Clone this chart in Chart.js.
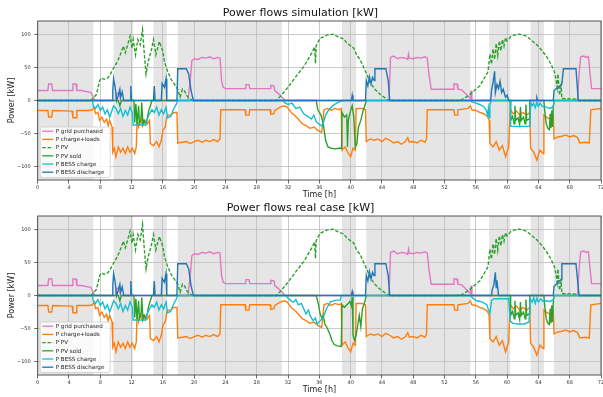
<!DOCTYPE html>
<html><head><meta charset="utf-8">
<script src="https://cdn.jsdelivr.net/npm/chart.js@4.4.0/dist/chart.umd.min.js"></script>
<style>
html,body{margin:0;padding:0;background:#fff;overflow:hidden;width:603px;height:397px;}
.box{position:absolute;left:0;width:620px;height:202px;}
#b1{top:0}
#b2{top:195px}
</style></head><body>
<div class="box" id="b1"><canvas id="c1" width="620" height="202"></canvas></div>
<div class="box" id="b2"><canvas id="c2" width="620" height="202"></canvas></div>
<script>
// ---------- tick labels / shaded periods ----------
const xTicks = [0,4,8,12,16,20,24,28,32,36,40,44,48,52,56,60,64,68,72];
const yTicks = [-100,-50,0,50,100];
const shadeStart = [0, 9.7, 14.8, 17.9, 38.9, 42.0, 57.7, 63.0, 66.0];
const shadeEnd   = [7.1, 12.2, 16.5, 31.2, 40.7, 55.3, 60.4, 64.7, 72];
const seriesLabels = ['P grid purchased','P charge+loads','P PV','P PV sold','P BESS charge','P BESS discharge'];
const titles = ['Power flows simulation [kW]','Power flows real case [kW]'];

// ---------- P grid purchased (both charts) ----------
const gridT = [0,1.3,1.4,1.8,1.9,4.4,4.5,4.9,5.0,5.6,6.0,6.5,6.8,7.1,7.3,9.9,10.0,10.4,10.6,19.2,
  19.5,19.7,20.0,20.5,21.0,21.5,22.0,22.5,23.0,23.3,23.5,23.7,24.0,26.5,26.6,27.0,27.1,29.7,29.8,30.2,
  30.3,30.8,31.3,31.6,44.9,45.1,45.5,46.0,46.5,47.0,47.3,47.4,47.5,48.0,48.5,49.0,49.5,49.8,50.0,50.3,
  53.1,53.2,53.6,53.7,54.2,54.8,55.3,55.4,55.5,69.0,69.2,69.4,69.8,70.1,70.4,70.6,70.8,72];
const gridV = [15,15,25,25,15,15,25,25,15,15,14,13,12,5,0,0,10,12,0,0,
  30,60,63,62,65,64,66,63,65,64,30,20,18,18,24,24,18,18,23,22,
  15,10,4,0,0,65,67,63,65,64,62,70,64,63,65,64,66,64,40,17,
  17,25,25,17,16,9,3,15,0,0,40,66,67,65,66,40,18,18];

// ---------- P charge+loads (both charts) ----------
const loadT = [0,1.3,1.4,1.8,1.9,4.4,4.5,4.9,5.0,6.5,
  7.0,7.2,7.4,7.7,7.9,8.2,8.5,8.8,9.0,9.2,
  9.5,9.6,9.8,10.0,10.3,10.6,10.9,11.2,11.5,11.8,
  12.1,12.4,12.6,12.7,12.9,13.1,13.4,13.7,14.0,14.3,
  14.4,14.8,15.2,15.5,15.8,16.0,16.3,16.5,16.7,17.0,
  17.4,17.8,17.9,18.5,19.0,19.5,20.0,20.5,21.0,21.5,
  22.0,22.5,23.0,23.3,23.4,26.5,26.6,27.0,27.1,29.7,
  29.8,30.2,30.3,31.0,31.5,31.9,32.4,32.8,33.3,33.8,
  34.3,34.8,35.3,35.8,36.3,36.6,37.0,37.5,38.0,38.5,
  38.8,38.9,39.3,39.7,40.0,40.3,40.6,40.7,41.5,41.9,
  42.0,42.5,43.0,43.5,44.0,44.5,45.0,45.5,46.0,46.5,
  47.0,47.3,47.5,48.0,48.5,49.0,49.5,49.7,49.8,53.2,
  53.3,53.6,53.7,55.0,55.3,55.5,56.0,56.5,57.0,57.5,
  57.7,57.8,58.2,58.6,59.0,59.4,59.8,60.2,60.4,60.8,
  61.2,61.6,62.0,62.5,62.9,63.0,63.4,63.8,64.2,64.6,
  64.7,65.0,65.5,65.9,66.0,66.5,67.0,67.5,68.0,68.5,
  69.0,69.3,70.0,70.5,70.7,72];
const loadV = [-15,-15,-25,-25,-15,-16,-26,-26,-15,-15,
  -14,-10,-20,-18,-30,-25,-33,-28,-38,-30,
  -40,-78,-72,-85,-70,-78,-72,-80,-70,-78,
  -72,-80,-70,-30,-40,-28,-38,-30,-35,-30,
  -65,-68,-62,-70,-60,-45,-40,-25,-22,-22,
  -18,-18,-64,-63,-62,-65,-62,-60,-63,-60,
  -62,-59,-62,-58,-14,-14,-22,-22,-14,-14,
  -21,-20,-15,-10,-8,-10,-18,-22,-28,-35,
  -38,-42,-40,-45,-48,-14,-12,-15,-12,-14,
  -12,-75,-70,-80,-85,-72,-75,-12,-12,-14,
  -62,-58,-60,-58,-62,-57,-60,-64,-62,-66,
  -62,-56,-63,-62,-64,-60,-63,-58,-14,-14,
  -22,-22,-14,-12,-8,-14,-15,-18,-20,-24,
  -30,-65,-70,-62,-75,-68,-85,-70,-14,-20,
  -16,-22,-18,-22,-18,-72,-78,-90,-75,-80,
  -22,-25,-28,-22,-58,-55,-54,-52,-55,-53,
  -56,-64,-63,-64,-14,-12];

// ---------- P PV (both charts) ----------
const pvT = [0,6.8,7.5,7.9,8.1,8.5,8.95,9.25,9.7,10.2,
  10.65,10.95,11.2,11.5,11.8,12.05,12.2,12.5,12.8,13.1,
  13.4,13.6,13.85,14.15,14.5,14.8,15.1,15.55,16.0,16.2,
  16.6,17.05,17.5,17.9,18.2,18.5,18.8,19.0,19.4,19.8,
  30.5,31.0,32.0,33.0,34.0,35.0,35.4,35.5,35.6,36.1,
  37.0,37.8,38.2,39.1,39.5,40.4,40.8,41.2,41.9,42.5,
  43.1,43.8,44.4,44.9,54.0,55.0,55.7,56.5,57.0,57.5,
  57.6,57.8,58.0,58.2,58.4,58.6,58.8,59.0,59.2,59.4,
  59.6,59.8,60.0,60.5,61.0,61.5,62.0,62.5,63.0,63.8,
  64.4,65.0,65.6,66.0,66.2,66.4,66.5,66.7,66.9,67.0,
  68.9,69.1,72];
const pvV = [0,0,9,29,34,32,34,39,49,59,
  72,82,72,84,97,79,92,69,92,84,
  107,74,40,60,74,92,69,89,74,59,
  44,32,24,17,5,17,14,8,3,0,
  0,6,20,36,51,71,81,56,83,94,
  99,100,97,93,87,79,68,62,44,27,
  17,9,4,0,0,7,14,22,32,42,
  48,70,55,78,62,86,68,90,75,92,
  82,95,90,97,99,100,99,97,92,84,
  76,67,55,45,35,20,40,8,22,3,
  2,0,0];

// ---------- simulation: P PV sold ----------
const soldSimT = [0,10.3,10.5,10.7,12.3,12.4,12.55,12.7,12.9,13.0,
  13.2,13.3,13.45,13.6,13.8,14.0,14.2,14.4,14.6,35.6,
  35.8,36.2,36.5,36.8,37.1,37.5,38.0,38.5,38.85,38.9,
  39.2,39.5,39.6,39.7,40.0,40.2,40.4,40.6,40.8,41.0,
  41.3,41.6,41.9,42.0,60.4,60.45,60.7,60.9,61.0,61.1,
  61.4,61.6,61.7,61.8,62.1,62.3,62.4,62.5,62.8,62.9,
  64.7,64.8,65.0,65.2,65.4,65.5,65.6,65.7,65.8,65.9,
  66.0,72];
const soldSimV = [0,0,-8,0,0,-33,-5,-36,-8,-35,
  -30,-3,-36,-30,-36,-28,-15,-8,0,0,
  -14,-22,-35,-60,-70,-72,-73,-72,-72,-18,
  -25,-22,-70,-30,-15,-8,-25,-70,-65,-40,
  -30,-15,-5,0,0,-30,-24,-35,-8,-30,
  -26,-36,-10,-30,-25,-35,-6,-30,-28,0,
  0,-15,-35,-42,-44,-20,-42,-15,-40,-10,
  0,0];

// ---------- simulation: P BESS charge ----------
const chSimT = [0,7.0,7.1,7.4,7.7,8.0,8.3,8.6,8.9,9.2,
  9.5,9.7,10.0,10.3,10.6,10.9,11.2,11.5,11.8,12.1,
  12.2,13.0,13.8,14.0,14.3,14.6,14.9,15.2,15.5,15.8,
  16.1,16.4,16.6,17.0,17.4,17.7,17.9,31.4,31.5,32.0,
  32.5,33.0,33.5,34.0,34.5,35.0,35.3,35.6,36.0,36.4,
  36.6,36.8,37.2,37.8,38.5,39.0,55.3,55.5,56.0,56.5,
  57.0,57.3,57.5,57.6,57.7,57.8,58.0,60.4,60.45,62.9,
  63.0,63.2,63.4,63.6,63.8,64.0,64.2,64.5,65.0,65.5,
  65.9,66.0,72];
const chSimV = [0,0,-8,-12,-6,-15,-10,-20,-14,-25,
  -15,-8,-12,-20,-12,-24,-15,-22,-10,-18,
  -37,-37,-37,-28,-20,-14,-18,-10,-22,-14,
  -20,-10,-26,-24,-12,-6,0,0,-3,-6,
  -4,-12,-10,-20,-24,-28,-22,-32,-36,-39,
  -30,-22,-14,-7,-2,0,0,-2,-4,-6,
  -9,-14,-22,-12,-26,-6,0,0,-39,-39,
  -2,-8,-4,-11,-3,-9,-4,-9,-10,-12,
  -9,0,0];

// ---------- simulation: P BESS discharge ----------
const disSimT = [0,9.5,9.6,9.7,9.9,10.1,10.3,10.5,10.6,10.8,
  11.0,11.8,11.9,12.0,14.8,14.9,15.0,15.8,15.9,16.2,
  16.4,16.5,17.8,17.9,19.0,19.3,19.6,19.9,40.1,40.2,
  40.3,41.9,42.0,42.2,42.4,42.6,42.8,43.0,43.1,44.5,
  44.8,45.0,57.9,58.0,58.2,58.4,58.5,58.7,58.9,59.1,
  59.3,59.5,59.8,60.0,60.2,63.7,63.8,63.9,65.9,66.0,
  66.3,66.6,67.0,67.2,68.8,69.1,72];
const disSimV = [0,0,15,33,20,0,8,17,5,13,
  0,0,22,0,0,22,0,0,26,20,
  33,0,0,48,48,40,15,0,0,8,
  0,0,30,22,36,25,35,30,48,48,
  30,0,0,15,27,44,12,24,18,29,
  12,17,5,8,0,0,4,0,0,15,
  18,20,25,48,48,0,0];

// ---------- real case: P PV sold ----------
const soldRealT = [0,10.3,10.5,10.7,12.3,12.4,12.55,12.7,12.9,13.0,
  13.2,13.3,13.45,13.6,13.8,14.0,14.2,14.4,14.6,35.6,
  35.9,36.1,36.3,36.5,36.7,37.0,37.4,37.6,37.9,38.3,
  38.8,38.9,39.2,39.5,39.7,39.9,40.1,40.2,40.3,40.5,
  40.7,40.9,41.1,41.3,41.5,41.8,42.0,60.4,60.45,60.7,
  60.9,61.0,61.1,61.4,61.6,61.7,61.8,62.1,62.3,62.4,
  62.5,62.8,62.9,64.7,64.8,65.0,65.2,65.4,65.5,65.6,
  65.7,65.8,65.9,66.0,72];
const soldRealV = [0,0,-8,0,0,-33,-5,-36,-8,-35,
  -30,-3,-36,-30,-36,-28,-15,-8,0,0,
  -14,-28,-34,-30,-43,-49,-60,-68,-74,-76,
  -77,-14,-18,-14,-12,-9,-16,-2,-60,-68,
  -60,-45,-30,-47,-20,-10,0,0,-30,-24,
  -35,-8,-30,-26,-36,-10,-30,-25,-35,-6,
  -30,-28,0,0,-15,-35,-42,-44,-20,-42,
  -15,-40,-10,0,0];

// ---------- real case: P BESS charge ----------
const chRealT = [0,7.0,7.1,7.4,7.7,8.0,8.3,8.6,8.9,9.2,
  9.5,9.7,10.0,10.3,10.6,10.9,11.2,11.5,11.8,12.1,
  12.2,13.0,13.8,14.0,14.3,14.6,14.9,15.2,15.5,15.8,
  16.1,16.4,16.6,17.0,17.4,17.7,17.9,31.7,32.0,32.4,
  32.7,33.0,33.3,33.7,34.0,34.3,34.6,34.8,35.2,35.5,
  35.7,36.1,36.5,36.9,37.4,37.8,38.2,38.7,38.8,55.3,
  55.6,56.1,56.6,57.0,57.4,57.6,57.8,58.0,58.3,59.0,
  60.2,60.4,60.7,61.5,62.2,62.8,62.95,63.2,63.4,63.6,
  63.8,64.0,64.3,64.6,65.0,65.5,65.9,66.0,72];
const chRealV = [0,0,-8,-12,-6,-15,-10,-20,-14,-25,
  -15,-8,-12,-20,-12,-24,-15,-22,-10,-18,
  -37,-37,-37,-28,-20,-14,-18,-10,-22,-14,
  -20,-10,-26,-24,-12,-6,0,0,-4,-8,
  -10,-6,-14,-12,-20,-28,-22,-30,-38,-34,
  -43,-38,-33,-20,-10,-8,-7,-7,0,0,
  -4,-8,-9,-11,-14,-21,-27,-8,-5,-5,
  -5,-38,-42,-43,-43,-40,-5,-10,-3,-12,
  -4,-10,-5,-9,-8,-9,-6,0,0];

// ---------- real case: P BESS discharge ----------
const disRealT = [0,9.5,9.6,9.7,9.9,10.1,10.3,10.5,10.6,10.8,
  11.0,11.8,11.9,12.0,14.8,14.9,15.0,15.8,15.9,16.2,
  16.4,16.5,17.8,17.9,19.0,19.3,19.6,19.9,40.1,40.2,
  40.3,41.9,42.0,42.2,42.4,42.6,42.8,43.0,43.1,44.5,
  44.8,45.0,58.0,58.1,58.3,58.5,58.6,58.7,58.9,65.9,
  66.0,66.2,66.4,66.6,66.9,67.0,68.8,69.2,72];
const disRealV = [0,0,15,33,20,0,8,17,5,13,
  0,0,22,0,0,22,0,0,26,20,
  33,0,0,48,48,40,15,0,0,6,
  0,0,30,22,36,25,35,30,48,48,
  30,0,0,9,16,35,12,23,0,0,
  14,16,18,22,24,48,48,0,0];

// ---------- drawing ----------
Chart.defaults.font.family = "'DejaVu Sans', sans-serif";
Chart.defaults.color = '#222';
const lineColors = ['#e377c2','#ff7f0e','#2ca02c','#2ca02c','#17becf','#1f77b4'];
const FONT = "'DejaVu Sans', sans-serif";

function pts(t, v) { return t.map((x, i) => ({x: x, y: v[i]})); }

const shadePlugin = {
  id: 'shade',
  beforeDraw(chart) {
    const ctx = chart.ctx, a = chart.chartArea, xs = chart.scales.x;
    ctx.save();
    ctx.fillStyle = '#e5e5e5';
    for (let i = 0; i < shadeStart.length; i++) {
      const x0 = xs.getPixelForValue(shadeStart[i]);
      const x1 = xs.getPixelForValue(shadeEnd[i]);
      ctx.fillRect(x0, a.top, x1 - x0, a.bottom - a.top);
    }
    ctx.restore();
  }
};

const frameLegendPlugin = {
  id: 'frameLegend',
  afterDraw(chart) {
    const ctx = chart.ctx, a = chart.chartArea;
    ctx.save();
    ctx.strokeStyle = '#444';
    ctx.lineWidth = 0.9;
    ctx.strokeRect(a.left, a.top, a.right - a.left, a.bottom - a.top);
    // legend box (lower left, inside axes)
    const bx = a.left + 2.5, bw = 70, bh = 50.5, by = a.bottom - 2.5 - bh;
    ctx.beginPath();
    if (ctx.roundRect) ctx.roundRect(bx, by, bw, bh, 2); else ctx.rect(bx, by, bw, bh);
    ctx.fillStyle = 'rgba(255,255,255,0.8)';
    ctx.fill();
    ctx.strokeStyle = '#cccccc';
    ctx.lineWidth = 0.8;
    ctx.stroke();
    ctx.font = '5.6px ' + FONT;
    ctx.textBaseline = 'middle';
    ctx.textAlign = 'left';
    chart.data.datasets.forEach((ds, i) => {
      const y = by + 4.2 + i * 8.2;
      ctx.beginPath();
      ctx.setLineDash(ds.borderDash || []);
      ctx.strokeStyle = ds.borderColor;
      ctx.lineWidth = 1.3;
      ctx.moveTo(bx + 2, y);
      ctx.lineTo(bx + 13, y);
      ctx.stroke();
      ctx.setLineDash([]);
      ctx.fillStyle = '#222';
      ctx.fillText(ds.label, bx + 15.5, y + 0.3);
    });
    ctx.restore();
  }
};

function makeChart(canvasId, titleText, series) {
  const datasets = series.map((s, i) => ({
    label: seriesLabels[i],
    data: pts(s[0], s[1]),
    borderColor: lineColors[i],
    backgroundColor: lineColors[i],
    borderWidth: 1.4,
    borderDash: i === 2 ? [3.5, 1.8] : [],
    pointRadius: 0,
    fill: false,
    tension: 0,
    order: 10 - i
  }));
  return new Chart(document.getElementById(canvasId), {
    type: 'line',
    data: {datasets: datasets},
    options: {
      responsive: false,
      animation: false,
      events: [],
      layout: {padding: {left: 0, right: 19, top: 0, bottom: 0}},
      plugins: {
        legend: {display: false},
        tooltip: {enabled: false},
        title: {display: true, text: titleText, color: '#111',
          font: {family: FONT, size: 11, weight: 'normal'}, padding: {top: 6.9, bottom: 0.9}}
      },
      scales: {
        x: {
          type: 'linear', min: 0, max: 72,
          afterBuildTicks: s => { s.ticks = xTicks.map(v => ({value: v})); },
          afterFit: s => { s.height = 22; },
          grid: {color: '#bdbdbd', lineWidth: 0.8, tickLength: 3.5, tickColor: '#444', tickWidth: 0.8},
          border: {display: false},
          ticks: {font: {family: FONT, size: 5}, color: '#333', padding: 1, maxRotation: 0, autoSkip: false},
          title: {display: true, text: 'Time [h]', color: '#222', font: {family: FONT, size: 8}, padding: {top: 0, bottom: 2.2}}
        },
        y: {
          type: 'linear', min: -120, max: 120,
          afterBuildTicks: s => { s.ticks = yTicks.map(v => ({value: v})); },
          afterFit: s => { s.width = 37.7; },
          grid: {color: '#bdbdbd', lineWidth: 0.8, tickLength: 3.5, tickColor: '#444', tickWidth: 0.8},
          border: {display: false},
          ticks: {font: {family: FONT, size: 5}, color: '#333', padding: 3.5,
            callback: v => String(v).replace('-', '\u2212')},
          title: {display: true, text: 'Power [kW]', color: '#222', font: {family: FONT, size: 8}, padding: {top: 7, bottom: 0}}
        }
      }
    },
    plugins: [shadePlugin, frameLegendPlugin]
  });
}

makeChart('c1', titles[0], [
  [gridT, gridV], [loadT, loadV], [pvT, pvV], [soldSimT, soldSimV], [chSimT, chSimV], [disSimT, disSimV]
]);
makeChart('c2', titles[1], [
  [gridT, gridV], [loadT, loadV], [pvT, pvV], [soldRealT, soldRealV], [chRealT, chRealV], [disRealT, disRealV]
]);
</script>
</body></html>
